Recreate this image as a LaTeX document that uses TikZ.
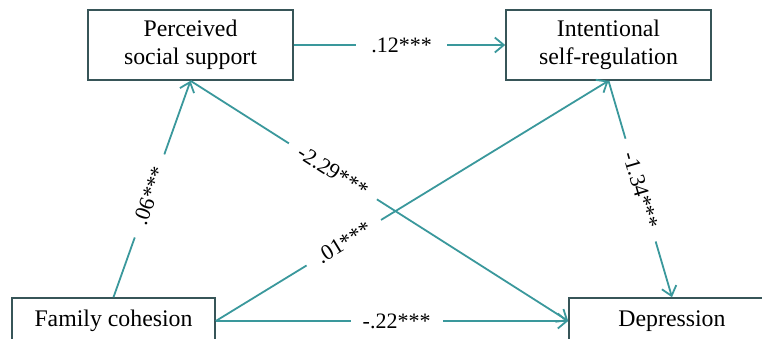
\documentclass[tikz,border=0pt]{standalone}
\usepackage{fontspec}
\setmainfont{Liberation Serif}
\usetikzlibrary{arrows.meta}
\definecolor{teal1}{RGB}{58,152,156}
\definecolor{boxc}{RGB}{55,85,88}
\tikzset{
  x=1pt,y=-1pt,
  varbox/.style={draw=boxc,line width=1.6pt,fill=white,minimum width=205pt,align=center,
     font=\fontsize{23.8}{28}\selectfont,inner sep=0pt},
  path/.style={draw=teal1,line width=1.8pt,-{Straight Barb[length=9pt,width=15pt,line width=1.8pt]}},
  lab/.style={fill=white,sloped,font=\fontsize{22}{24}\selectfont,inner ysep=1pt,inner xsep=0pt}
}
\begin{document}
\begin{tikzpicture}
\useasboundingbox (0,0) rectangle (762,339);
\clip (0,0) rectangle (762,339);
\node[varbox,minimum height=70pt] (pss) at (190.5,45) {Perceived\\social support};
\node[varbox,minimum height=70pt] (isr) at (608.5,45) {Intentional\\self-regulation};
\node[varbox,minimum width=203pt,minimum height=46pt] (fc) at (113.5,321) {Family cohesion};
\node[varbox,minimum width=206pt,minimum height=46pt] (dep) at (672,321) {Depression};
\draw[path] (fc.north) -- node[lab,pos=0.468,minimum width=88pt] {.06***} (pss.south);
\draw[path] (pss.east) -- node[lab,pos=0.51,minimum width=91pt] {.12***} (isr.west);
\draw[path] (pss.south) -- node[lab,pos=0.377,minimum width=104pt] {-2.29***} (dep.west);
\draw[path] (fc.east) -- node[lab,pos=0.326,minimum width=87pt] {.01***} (isr.south);
\draw[path] (isr.south) -- node[lab,pos=0.505,minimum width=107pt] {-1.34***} (dep.north);
\draw[path] (fc.east) -- node[lab,pos=0.513,minimum width=92pt] {-.22***} (dep.west);
\end{tikzpicture}
\end{document}
